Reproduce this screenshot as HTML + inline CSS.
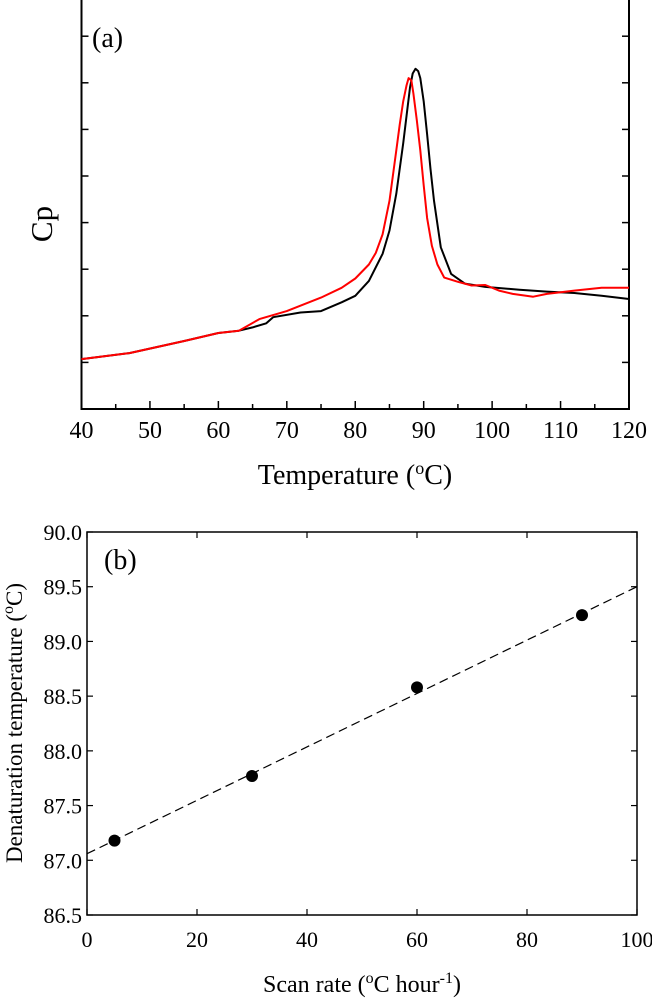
<!DOCTYPE html>
<html><head><meta charset="utf-8"><style>
html,body{margin:0;padding:0;background:#fff}
svg{display:block;font-family:"Liberation Serif",serif}
</style></head><body>
<svg id="fig" width="652" height="1000" viewBox="0 0 652 1000">
<g id="pa"></g>
<g id="pb"></g>
</svg>
<script>
// Panel (a) data: temperature vs Cp (arbitrary units)
const redT=[40,47,55,60,63,66,70,75,78,80,82,83,84,85,86,86.5,87,87.5,87.8,88.2,88.5,89,89.5,90,90.5,91.2,92,93,95,97,99,101,103,106,108,112,116,120];
const redCp=[1.07,1.2,1.46,1.63,1.68,1.93,2.1,2.39,2.6,2.8,3.1,3.35,3.75,4.47,5.55,6.1,6.6,6.95,7.1,7.05,6.77,6.2,5.55,4.8,4.1,3.5,3.1,2.82,2.73,2.65,2.66,2.54,2.47,2.41,2.47,2.54,2.6,2.6];
const blackT=[40,47,55,60,63,65,67,68,72,75,78,80,82,84,85,86,87,87.5,88,88.4,88.8,89.2,89.5,90,90.5,91,91.5,92.5,94,96,99,104,108,112,116,120];
const blackCp=[1.07,1.2,1.46,1.63,1.68,1.75,1.84,1.97,2.07,2.1,2.29,2.43,2.75,3.33,3.83,4.62,5.7,6.3,6.9,7.2,7.3,7.25,7.1,6.6,5.9,5.15,4.47,3.47,2.9,2.69,2.62,2.56,2.52,2.49,2.43,2.36];
const aXTicks=[40,50,60,70,80,90,100,110,120];
// Panel (b) data
const rates=[5,30,60,90];
const tdenat=[87.18,87.77,88.58,89.24];
const fitX=[0,100];
const fitY=[87.06,89.5];
const bXTicks=[0,20,40,60,80,100];
const bYTicks=[86.5,87.0,87.5,88.0,88.5,89.0,89.5,90.0];

const NS="http://www.w3.org/2000/svg";
function mk(parent,tag,attrs,text){const e=document.createElementNS(NS,tag);for(const k in attrs)e.setAttribute(k,attrs[k]);if(text!==undefined)e.textContent=text;parent.appendChild(e);return e;}

// ---- Panel a
const pa=document.getElementById('pa');
const aL=81.5,aR=629,aB=409,aT=0;
const ax=t=>aL+(t-40)*(aR-aL)/80;
const ay=v=>aB-v*46.6;
let el=mk(pa,'path',{d:`M${aL},${aT}V${aB}H${aR}V${aT}`,fill:'none',stroke:'#000','stroke-width':2});


for(let t=40;t<=120;t+=5){
  const len=(t%10===0)?8:5;
  el=mk(pa,'line',{x1:ax(t),x2:ax(t),y1:aB,y2:aB-len,stroke:'#000','stroke-width':1.5});
  
  
}
for(let v=1;v<=8;v++){
  const y=ay(v);
  el=mk(pa,'line',{x1:aL,x2:aL+7,y1:y,y2:y,stroke:'#000','stroke-width':1.5});
  
  
  el=mk(pa,'line',{x1:aR,x2:aR-7,y1:y,y2:y,stroke:'#000','stroke-width':1.5});
  
  
}
aXTicks.forEach(t=>{
  el=mk(pa,'text',{x:ax(t),y:438,'text-anchor':'middle','font-size':24},String(t));
  
  
});
el=mk(pa,'text',{x:355,y:484,'text-anchor':'middle','font-size':28},'');
el.innerHTML='Temperature (<tspan dy="-10" font-size="18">o</tspan><tspan dy="10">C)</tspan>';


el=mk(pa,'text',{x:0,y:0,'text-anchor':'middle','font-size':31,transform:'translate(52,224) rotate(-90)'},'Cp');


el=mk(pa,'text',{x:92,y:47,'font-size':28},'(a)');


function poly(T,V){return T.map((t,i)=>`${i?'L':'M'}${ax(t).toFixed(1)},${ay(V[i]).toFixed(1)}`).join('');}
el=mk(pa,'path',{d:poly(blackT,blackCp),fill:'none',stroke:'#000','stroke-width':2,'stroke-linejoin':'round'});


el=mk(pa,'path',{d:poly(redT,redCp),fill:'none',stroke:'#f00','stroke-width':2,'stroke-linejoin':'round'});



// ---- Panel b
const pb=document.getElementById('pb');
const bL=87,bR=637,bT=532,bB=915;
const bx=r=>bL+r*(bR-bL)/100;
const by=v=>bB-(v-86.5)*(bB-bT)/3.5;
el=mk(pb,'rect',{x:bL,y:bT,width:bR-bL,height:bB-bT,fill:'none',stroke:'#000','stroke-width':1.5});


bXTicks.forEach(t=>{
  el=mk(pb,'line',{x1:bx(t),x2:bx(t),y1:bB,y2:bB-6,stroke:'#000','stroke-width':1.2});
  
  
  el=mk(pb,'line',{x1:bx(t),x2:bx(t),y1:bT,y2:bT+6,stroke:'#000','stroke-width':1.2});
  
  
  el=mk(pb,'text',{x:bx(t),y:947,'text-anchor':'middle','font-size':22},String(t));
  
  
});
bYTicks.forEach(v=>{
  el=mk(pb,'line',{x1:bL,x2:bL+6,y1:by(v),y2:by(v),stroke:'#000','stroke-width':1.2});
  
  
  el=mk(pb,'line',{x1:bR,x2:bR-6,y1:by(v),y2:by(v),stroke:'#000','stroke-width':1.2});
  
  
  el=mk(pb,'text',{x:82,y:by(v)+8,'text-anchor':'end','font-size':22},v.toFixed(1));
  
  
});
el=mk(pb,'line',{x1:bx(fitX[0]),y1:by(fitY[0]),x2:bx(fitX[1]),y2:by(fitY[1]),stroke:'#000','stroke-width':1.2,'stroke-dasharray':'9,5'});


rates.forEach((r,i)=>{
  el=mk(pb,'circle',{cx:bx(r),cy:by(tdenat[i]),r:6,fill:'#000'});
  
  
});
el=mk(pb,'text',{x:104,y:569,'font-size':28},'(b)');


el=mk(pb,'text',{x:362,y:992,'text-anchor':'middle','font-size':24},'');
el.innerHTML='Scan rate (<tspan dy="-9" font-size="16">o</tspan><tspan dy="9">C hour</tspan><tspan dy="-9" font-size="16">-1</tspan><tspan dy="9">)</tspan>';


el=mk(pb,'text',{x:0,y:0,'text-anchor':'middle','font-size':23,transform:'translate(22,723) rotate(-90)'},'');
el.innerHTML='Denaturation temperature (<tspan dy="-9" font-size="16">o</tspan><tspan dy="9">C)</tspan>';


</script>
</body></html>
